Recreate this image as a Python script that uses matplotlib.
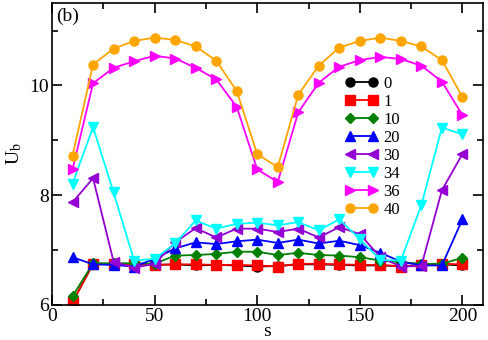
import matplotlib
matplotlib.use("Agg")
import matplotlib.pyplot as plt
import numpy as np

plt.rcParams["font.family"] = ["Liberation Serif", "DejaVu Serif"]
plt.rcParams["mathtext.fontset"] = "stix"

s = np.arange(10, 201, 10)

u0 = [6.05, 6.75, 6.74, 6.74, 6.73, 6.74, 6.72, 6.73, 6.72, 6.70,
      6.71, 6.74, 6.74, 6.73, 6.72, 6.72, 6.71, 6.72, 6.74, 6.72]
u1 = [6.05, 6.75, 6.74, 6.74, 6.73, 6.74, 6.74, 6.73, 6.73, 6.72,
      6.70, 6.75, 6.75, 6.74, 6.73, 6.73, 6.70, 6.72, 6.75, 6.74]
u10 = [6.16, 6.76, 6.76, 6.76, 6.75, 6.90, 6.91, 6.93, 6.97, 6.97,
       6.91, 6.95, 6.91, 6.90, 6.87, 6.81, 6.78, 6.75, 6.75, 6.86]
u20 = [6.87, 6.74, 6.73, 6.70, 6.84, 7.03, 7.14, 7.11, 7.16, 7.19,
       7.13, 7.19, 7.12, 7.17, 7.09, 6.95, 6.79, 6.72, 6.72, 7.56]
u30 = [7.87, 8.31, 6.79, 6.68, 6.75, 7.14, 7.40, 7.23, 7.39, 7.39,
       7.33, 7.39, 7.23, 7.42, 7.29, 6.87, 6.70, 6.71, 8.09, 8.75]
u34 = [8.21, 9.24, 8.05, 6.81, 6.84, 7.12, 7.54, 7.39, 7.48, 7.50,
       7.45, 7.51, 7.36, 7.56, 7.20, 6.82, 6.81, 7.82, 9.23, 9.11]
u36 = [8.47, 10.04, 10.32, 10.44, 10.54, 10.49, 10.32, 10.11, 9.61, 8.47,
       8.24, 9.51, 10.05, 10.34, 10.46, 10.52, 10.48, 10.36, 10.07, 9.46]
u40 = [8.72, 10.38, 10.67, 10.81, 10.87, 10.83, 10.71, 10.45, 9.90, 8.75,
       8.51, 9.83, 10.36, 10.69, 10.81, 10.87, 10.81, 10.71, 10.46, 9.79]

labels = ["0", "1", "10", "20", "30", "34", "36", "40"]
series = [u0, u1, u10, u20, u30, u34, u36, u40]
colors = ["black", "red", "green", "blue", "#9400d3", "cyan", "magenta", "orange"]
markers = ["o", "s", "D", "^", "<", "v", ">", "o"]
sizes = [6.5, 6.5, 5, 6.5, 6.5, 6.5, 6.5, 6.5]

fig = plt.figure(figsize=(4.88, 3.40), dpi=100)
ax = fig.add_axes([0.1066, 0.103, 0.883, 0.888])

for y, lab, c, m, ms in zip(series, labels, colors, markers, sizes):
    ax.plot(s, y, color=c, marker=m, markersize=ms, lw=1.3, label=lab)

ax.set_xlim(0, 210)
ax.set_ylim(6, 11.5)
ax.set_xticks([0, 50, 100, 150, 200])
ax.set_xticks([25, 75, 125, 175], minor=True)
ax.set_yticks([6, 8, 10])
ax.set_yticks([7, 9, 11], minor=True)
ax.tick_params(which="both", direction="in", top=True, right=True, labelsize=14, width=1.2)
ax.tick_params(which="major", length=7, pad=2)
ax.tick_params(which="minor", length=4)
for sp in ax.spines.values():
    sp.set_linewidth(1.2)

ax.set_xlabel("s", fontsize=14, labelpad=-1)
ax.set_ylabel(r"U$_\mathrm{b}$", fontsize=14, labelpad=4)
ax.text(0.01, 0.985, "(b)", transform=ax.transAxes, fontsize=14, va="top", ha="left")

ax.legend(loc="upper left", bbox_to_anchor=(0.68, 0.76), frameon=False, fontsize=12,
          numpoints=2, handlelength=2.0, handletextpad=0.3, labelspacing=0.12,
          borderpad=0.0, borderaxespad=0.0)

fig.savefig("out.png", dpi=100)
